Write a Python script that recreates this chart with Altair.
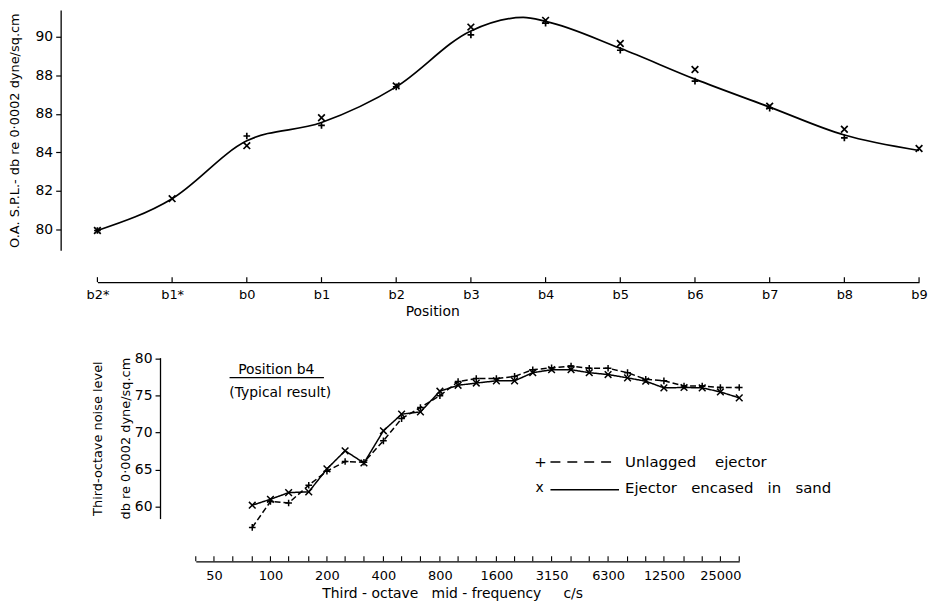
import altair as alt
import pandas as pd

# ---------------- Top panel data (overall SPL vs position) ----------------
positions = ["b2*", "b1*", "b0", "b1", "b2", "b3", "b4", "b5", "b6", "b7", "b8", "b9"]
pos_index = list(range(len(positions)))
oa_unlagged = [79.95, None, 84.85, 85.4, 87.4, 90.1, 90.7, 89.3, 87.7, 86.3, 84.75, None]
oa_sand = [79.95, 81.6, 84.35, 85.8, 87.45, 90.5, 90.85, 89.65, 88.3, 86.4, 85.2, 84.2]
curve_pos = [0, 1, 2, 3, 4, 5, 5.7, 6, 7, 8, 9, 10, 11]
curve_val = [79.95, 81.6, 84.6, 85.55, 87.4, 90.3, 91.0, 90.8, 89.4, 87.8, 86.35, 84.9, 84.1]
top_tick_values = [80, 82, 84, 86, 88, 90]
top_tick_labels = ["80", "82", "84", "88", "88", "90"]

# ---------------- Bottom panel data (third-octave spectrum at b4) ----------------
freqs = [80, 100, 125, 160, 200, 250, 315, 400, 500, 630, 800, 1000, 1250, 1600,
         2000, 2500, 3150, 4000, 5000, 6300, 8000, 10000, 12500, 16000, 20000, 25000, 31500]
unlagged = [57.2, 60.7, 60.5, 62.9, 64.8, 66.1, 66.0, 68.9, 71.9, 73.4, 75.0, 76.9, 77.3, 77.3,
            77.6, 78.5, 78.75, 79.0, 78.7, 78.7, 78.1, 77.2, 77.0, 76.3, 76.3, 76.1, 76.1]
sand = [60.2, 61.0, 61.9, 62.0, 65.1, 67.55, 65.9, 70.25, 72.5, 72.8, 75.6, 76.4, 76.7, 77.0,
        77.0, 78.1, 78.5, 78.5, 78.1, 77.85, 77.4, 76.95, 76.05, 76.1, 76.05, 75.5, 74.7]
band_ticks = [40, 50, 63, 80, 100, 125, 160, 200, 250, 315, 400, 500, 630, 800, 1000, 1250,
              1600, 2000, 2500, 3150, 4000, 5000, 6300, 8000, 10000, 12500, 16000, 20000, 25000, 31500]
octave_labels = [50, 100, 200, 400, 800, 1600, 3150, 6300, 12500, 25000]
bottom_tick_values = [60, 65, 70, 75, 80]

series_names = ["Unlagged ejector", "Ejector encased in sand"]
legend_labels = ["Unlagged\u00a0\u00a0\u00a0 ejector",
                 "Ejector\u00a0\u00a0 encased\u00a0\u00a0 in\u00a0\u00a0 sand"]
legend_marks = ["+", "x"]
note_title = "Position b4"
note_sub = "(Typical result)"

PLUS = "M-1,0H1M0,-1V1"
CROSS = "M-1,-1L1,1M1,-1L-1,1"
FONT = "DejaVu Sans"

# ---------------- Top panel ----------------
top_pts = pd.DataFrame({"pos": pos_index * 2,
                        "spl": oa_unlagged + oa_sand,
                        "series": [series_names[0]] * 12 + [series_names[1]] * 12}).dropna()
curve_df = pd.DataFrame({"pos": curve_pos, "spl": curve_val})
top_ticks_df = pd.DataFrame({"pos": pos_index})

pos_expr = "[" + ",".join("'%s'" % p for p in positions) + "][datum.value]"
ylab_expr = ("[" + ",".join("'%s'" % l for l in top_tick_labels) + "][indexof(["
             + ",".join(str(v) for v in top_tick_values) + "], datum.value)]")

tx = alt.X("pos:Q", scale=alt.Scale(domain=[0, 11], nice=False, zero=False),
           axis=alt.Axis(values=pos_index, labelExpr=pos_expr, offset=32, tickSize=0,
                         labelPadding=6, labelFontSize=13, title="Position", titleX=337,
                         titlePadding=4, titleFontSize=14, titleFontWeight="normal",
                         labelFlush=False))
ty = alt.Y("spl:Q", scale=alt.Scale(domain=[78.92, 91.39], nice=False, zero=False),
           axis=alt.Axis(values=top_tick_values, labelExpr=ylab_expr, offset=37, tickSize=5,
                         labelFontSize=14, labelPadding=3,
                         title="O.A. S.P.L.- db re 0\u00b70002 dyne/sq.cm",
                         titleFontSize=13, titleFontWeight="normal", titlePadding=14))

shape_enc = alt.Shape("series:N", scale=alt.Scale(domain=series_names, range=[PLUS, CROSS]),
                      legend=None)

top_curve = alt.Chart(curve_df).mark_line(interpolate="monotone", color="black",
                                          strokeWidth=1.7).encode(x=tx, y=ty)
top_marks = alt.Chart(top_pts).mark_point(filled=False, color="black", strokeWidth=1.7,
                                          size=45, opacity=1).encode(x=tx, y=ty, shape=shape_enc)
top_inticks = alt.Chart(top_ticks_df).mark_rule(color="black", strokeWidth=1.2).encode(
    x=tx, y=alt.value(269), y2=alt.value(274))
top = alt.layer(top_curve, top_marks, top_inticks).properties(width=827, height=242)

# ---------------- Bottom panel ----------------
bot_df = pd.DataFrame({"freq": freqs * 2,
                       "level": unlagged + sand,
                       "series": [series_names[0]] * len(freqs) + [series_names[1]] * len(freqs)})
bot_ticks_df = pd.DataFrame({"freq": band_ticks})

oct_expr = ("indexof([" + ",".join(str(v) for v in octave_labels)
            + "], datum.value) >= 0 ? format(datum.value, 'd') : ''")

bx = alt.X("freq:Q", scale=alt.Scale(type="log", domain=[40, 31500], range=[99, 646], nice=False),
           axis=alt.Axis(values=band_ticks, labelExpr=oct_expr, offset=43, tickSize=0,
                         labelPadding=8, labelFontSize=13, labelFlush=False,
                         title="Third\u00a0-\u00a0octave\u00a0\u00a0\u00a0mid\u00a0-\u00a0frequency\u00a0\u00a0\u00a0\u00a0\u00a0c/s",
                         titleX=357, titlePadding=4, titleFontSize=14, titleFontWeight="normal"))
by = alt.Y("level:Q", scale=alt.Scale(domain=[58.39, 80.13], nice=False, zero=False),
           axis=alt.Axis(values=bottom_tick_values, offset=-63, tickSize=5, labelFontSize=14,
                         labelPadding=3,
                         title=["Third-octave  noise  level", "db re 0\u00b70002 dyne/sq.cm"],
                         titleFontSize=13, titleFontWeight="normal", titlePadding=2,
                         titleLineHeight=28))

dash_enc = alt.StrokeDash("series:N", scale=alt.Scale(domain=series_names, range=[[6, 3], [1, 0]]),
                          legend=None)

bot_lines = alt.Chart(bot_df).mark_line(color="black", strokeWidth=1.5).encode(
    x=bx, y=by, detail="series:N", strokeDash=dash_enc)
bot_marks = alt.Chart(bot_df).mark_point(filled=False, color="black", strokeWidth=1.5,
                                         size=45, opacity=1).encode(x=bx, y=by, shape=shape_enc)
bot_inticks = alt.Chart(bot_ticks_df).mark_rule(color="black", strokeWidth=1.1).encode(
    x=bx, y=alt.value(200), y2=alt.value(205))

note1 = alt.Chart(pd.DataFrame({"t": [note_title]})).mark_text(
    font=FONT, fontSize=14, color="black").encode(text="t:N", x=alt.value(180), y=alt.value(12))
note_line = alt.Chart(pd.DataFrame({"t": [note_title]})).mark_rule(color="black", strokeWidth=1.3).encode(
    x=alt.value(133), x2=alt.value(228), y=alt.value(20))
note2 = alt.Chart(pd.DataFrame({"t": [note_sub]})).mark_text(
    font=FONT, fontSize=14, color="black").encode(text="t:N", x=alt.value(184), y=alt.value(36))

leg_sym1 = alt.Chart(pd.DataFrame({"t": [legend_marks[0]]})).mark_text(
    font=FONT, fontSize=15, color="black").encode(text="t:N", x=alt.value(446), y=alt.value(105))
leg_sym2 = alt.Chart(pd.DataFrame({"t": [legend_marks[1]]})).mark_text(
    font=FONT, fontSize=14, color="black").encode(text="t:N", x=alt.value(445), y=alt.value(131))
leg_rule1 = alt.Chart(pd.DataFrame({"t": [series_names[0]]})).mark_rule(
    color="black", strokeWidth=1.4, strokeDash=[10, 7]).encode(
    x=alt.value(456), x2=alt.value(523), y=alt.value(105))
leg_rule2 = alt.Chart(pd.DataFrame({"t": [series_names[1]]})).mark_rule(
    color="black", strokeWidth=1.4).encode(x=alt.value(456), x2=alt.value(525), y=alt.value(133))
leg_txt1 = alt.Chart(pd.DataFrame({"t": [legend_labels[0]]})).mark_text(
    font=FONT, fontSize=15, color="black", align="left").encode(
    text="t:N", x=alt.value(531), y=alt.value(105))
leg_txt2 = alt.Chart(pd.DataFrame({"t": [legend_labels[1]]})).mark_text(
    font=FONT, fontSize=15, color="black", align="left").encode(
    text="t:N", x=alt.value(531), y=alt.value(131))

bottom = alt.layer(bot_lines, bot_marks, bot_inticks, note1, note_line, note2, leg_sym1, leg_sym2,
                   leg_rule1, leg_rule2, leg_txt1, leg_txt2).properties(width=646, height=162)

chart = alt.vconcat(top, bottom, spacing=108, bounds="flush").properties(
    padding={"left": 0, "top": 0, "right": 0, "bottom": 0}
).configure(font=FONT).configure_axis(
    labelFont=FONT, titleFont=FONT, labelColor="black", titleColor="black",
    domainColor="black", tickColor="black", grid=False, domainWidth=1.3, tickWidth=1.2
).configure_view(stroke=None)

chart.save("out.html", embed_options={"renderer": "svg", "actions": False})
